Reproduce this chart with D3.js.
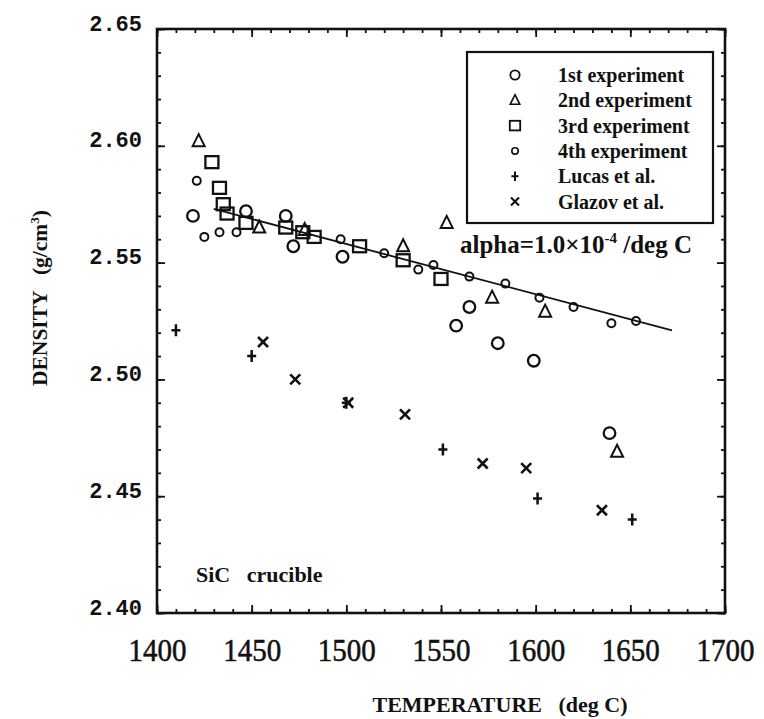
<!DOCTYPE html>
<html>
<head>
<meta charset="utf-8">
<script src="https://cdn.jsdelivr.net/npm/d3@7"></script>
<style>
  body { margin: 0; background: #fff; }
  text { white-space: pre; }
</style>
</head>
<body>
<svg id="chart" width="764" height="719"></svg>
<script>
// Density of liquid Si measured in a SiC crucible, [temperature (deg C), density (g/cm3)]
const exp1 = [[1419, 2.570], [1447, 2.572], [1468, 2.570], [1472, 2.557], [1498, 2.5525],
              [1558, 2.523], [1565, 2.531], [1580, 2.5155], [1599, 2.508], [1639, 2.477]];
const exp2 = [[1422, 2.602], [1454, 2.565], [1478, 2.564], [1530, 2.557], [1553, 2.567],
              [1577, 2.535], [1605, 2.529], [1643, 2.469]];
const exp3 = [[1429, 2.593], [1433, 2.582], [1435, 2.575], [1437, 2.571], [1447, 2.567],
              [1468, 2.565], [1477, 2.563], [1483, 2.561], [1507, 2.557], [1530, 2.551],
              [1550, 2.543]];
const exp4 = [[1421, 2.585], [1425, 2.561], [1433, 2.563], [1442, 2.563], [1497, 2.560],
              [1520, 2.554], [1538, 2.547], [1546, 2.549], [1565, 2.544], [1584, 2.541],
              [1602, 2.535], [1620, 2.531], [1640, 2.524], [1653, 2.525]];
const lucas = [[1410, 2.521], [1450, 2.510], [1500, 2.490], [1551, 2.470], [1601, 2.449], [1651, 2.440]];
const glazov = [[1456, 2.516], [1473, 2.500], [1501, 2.490], [1531, 2.485], [1572, 2.464],
                [1595, 2.462], [1635, 2.444]];
// fitted line, alpha = 1.0e-4 /deg C
const fitLine = [[1430, 2.573], [1672, 2.521]];

const tempTicks = [1400, 1450, 1500, 1550, 1600, 1650, 1700];
const densityTicks = [2.40, 2.45, 2.50, 2.55, 2.60, 2.65];
const legendLabels = ["1st experiment", "2nd experiment", "3rd experiment", "4th experiment", "Lucas et al.", "Glazov et al."];

const svg = d3.select("#chart");
const ink = "#111";

const x = d3.scaleLinear().domain([1400, 1700]).range([157, 725]);
const y = d3.scaleLinear().domain([2.40, 2.65]).range([613, 29]);

const serif = "'Liberation Serif', 'Times New Roman', serif";

// ---- axes: inward ticks on all four sides ----
const minorT = d3.range(1400, 1701, 10);
const minorD = d3.range(0, 26).map(i => +(2.40 + i * 0.01).toFixed(2));

function styleAxis(g) {
  g.select(".domain").remove();
  g.selectAll(".tick line").attr("stroke", ink).attr("stroke-width", 1.8);
}

// bottom
svg.append("g").attr("transform", `translate(0,${y(2.40)})`)
  .call(d3.axisBottom(x).tickValues(minorT).tickSizeInner(-4).tickSizeOuter(0).tickFormat(""))
  .call(styleAxis);
const bottomAxis = svg.append("g").attr("transform", `translate(0,${y(2.40)})`)
  .call(d3.axisBottom(x).tickValues(tempTicks).tickSizeInner(-8).tickSizeOuter(0).tickPadding(24).tickFormat(d3.format("d")))
  .call(styleAxis);
bottomAxis.selectAll(".tick text")
  .attr("font-family", serif).attr("font-size", 29).attr("fill", ink)
  .attr("stroke", ink).attr("stroke-width", 0.5)
  .attr("transform", "scale(1,1.08)");

// top
svg.append("g").attr("transform", `translate(0,${y(2.65)})`)
  .call(d3.axisTop(x).tickValues(minorT).tickSizeInner(-4).tickSizeOuter(0).tickFormat(""))
  .call(styleAxis);
svg.append("g").attr("transform", `translate(0,${y(2.65)})`)
  .call(d3.axisTop(x).tickValues(tempTicks).tickSizeInner(-8).tickSizeOuter(0).tickFormat(""))
  .call(styleAxis);

// left
svg.append("g").attr("transform", `translate(${x(1400)},0)`)
  .call(d3.axisLeft(y).tickValues(minorD).tickSizeInner(-4).tickSizeOuter(0).tickFormat(""))
  .call(styleAxis);
const leftAxis = svg.append("g").attr("transform", `translate(${x(1400)},0)`)
  .call(d3.axisLeft(y).tickValues(densityTicks).tickSizeInner(-8).tickSizeOuter(0).tickPadding(15).tickFormat(d3.format(".2f")))
  .call(styleAxis);
leftAxis.selectAll(".tick text")
  .attr("font-family", "'Liberation Mono', 'DejaVu Sans Mono', monospace")
  .attr("font-weight", "bold").attr("font-size", 22).attr("fill", ink)
  .attr("dy", "0.05em");

// right
svg.append("g").attr("transform", `translate(${x(1700)},0)`)
  .call(d3.axisRight(y).tickValues(minorD).tickSizeInner(-4).tickSizeOuter(0).tickFormat(""))
  .call(styleAxis);
svg.append("g").attr("transform", `translate(${x(1700)},0)`)
  .call(d3.axisRight(y).tickValues(densityTicks).tickSizeInner(-8).tickSizeOuter(0).tickFormat(""))
  .call(styleAxis);

// frame
svg.append("rect")
  .attr("x", x(1400)).attr("y", y(2.65))
  .attr("width", x(1700) - x(1400)).attr("height", y(2.40) - y(2.65))
  .attr("fill", "none").attr("stroke", ink).attr("stroke-width", 2.6);

// ---- axis titles ----
svg.append("text")
  .attr("x", 500).attr("y", 712)
  .attr("text-anchor", "middle")
  .attr("font-family", serif).attr("font-weight", "bold").attr("font-size", 22).attr("fill", ink)
  .text("TEMPERATURE   (deg C)");

const yTitle = svg.append("text")
  .attr("transform", "translate(47,386) rotate(-90)")
  .attr("text-anchor", "start")
  .attr("font-family", serif).attr("font-weight", "bold").attr("font-size", 21.5).attr("fill", ink);
yTitle.append("tspan").text("DENSITY   (g/cm");
yTitle.append("tspan").attr("dy", -8).attr("font-size", 13).text("3");
yTitle.append("tspan").attr("dy", 8).text(")");

// ---- markers ----
const sw = 2;
const markers = {
  circleBig: (g) => g.append("circle").attr("r", 5.8).attr("fill", "none").attr("stroke", ink).attr("stroke-width", sw + 0.3),
  triangle: (g) => g.append("path").attr("d", "M0,-7 L6,5 L-6,5 Z").attr("fill", "none").attr("stroke", ink).attr("stroke-width", sw),
  square: (g) => g.append("rect").attr("x", -6.5).attr("y", -6).attr("width", 13).attr("height", 12).attr("fill", "none").attr("stroke", ink).attr("stroke-width", sw + 0.3),
  circleSmall: (g) => g.append("circle").attr("r", 4).attr("fill", "none").attr("stroke", ink).attr("stroke-width", sw),
  plus: (g) => g.append("path").attr("d", "M-4.5,0 H4.5 M0,-6 V6").attr("stroke", ink).attr("stroke-width", 2.5),
  cross: (g) => g.append("path").attr("d", "M-5,-5 L5,5 M5,-5 L-5,5").attr("stroke", ink).attr("stroke-width", 2.6)
};

const seriesList = [
  { data: exp1, mark: "circleBig" },
  { data: exp2, mark: "triangle" },
  { data: exp3, mark: "square" },
  { data: exp4, mark: "circleSmall" },
  { data: lucas, mark: "plus" },
  { data: glazov, mark: "cross" }
];

// fitted line
svg.append("path")
  .datum(fitLine)
  .attr("d", d3.line().x(d => x(d[0])).y(d => y(d[1])))
  .attr("fill", "none").attr("stroke", ink).attr("stroke-width", 1.8);

seriesList.forEach(s => {
  svg.append("g").selectAll("g").data(s.data).join("g")
    .attr("transform", d => `translate(${x(d[0])},${y(d[1])})`)
    .each(function () { markers[s.mark](d3.select(this)); });
});

// ---- legend ----
const legend = svg.append("g");
legend.append("rect")
  .attr("x", 467).attr("y", 52).attr("width", 246).attr("height", 171)
  .attr("fill", "#fff").attr("stroke", ink).attr("stroke-width", 2.2);
seriesList.forEach((s, i) => {
  const row = legend.append("g").attr("transform", `translate(515,${75 + i * 25.3})`);
  markers[s.mark](row).attr("transform", "scale(0.8)");
  legend.append("text")
    .attr("x", 558).attr("y", 75 + i * 25.3).attr("dy", "0.35em")
    .attr("font-family", serif).attr("font-weight", "bold").attr("font-size", 20).attr("fill", ink)
    .text(legendLabels[i]);
});

// ---- annotations ----
const alpha = svg.append("text")
  .attr("x", 460).attr("y", 253)
  .attr("font-family", serif).attr("font-weight", "bold").attr("font-size", 25).attr("fill", ink);
alpha.append("tspan").text("alpha=1.0\u00d710");
alpha.append("tspan").attr("dy", -10).attr("font-size", 15).text("-4");
alpha.append("tspan").attr("dy", 10).text(" /deg C");

svg.append("text")
  .attr("x", 196).attr("y", 582)
  .attr("font-family", serif).attr("font-weight", "bold").attr("font-size", 22).attr("fill", ink)
  .text("SiC   crucible");
</script>
</body>
</html>
